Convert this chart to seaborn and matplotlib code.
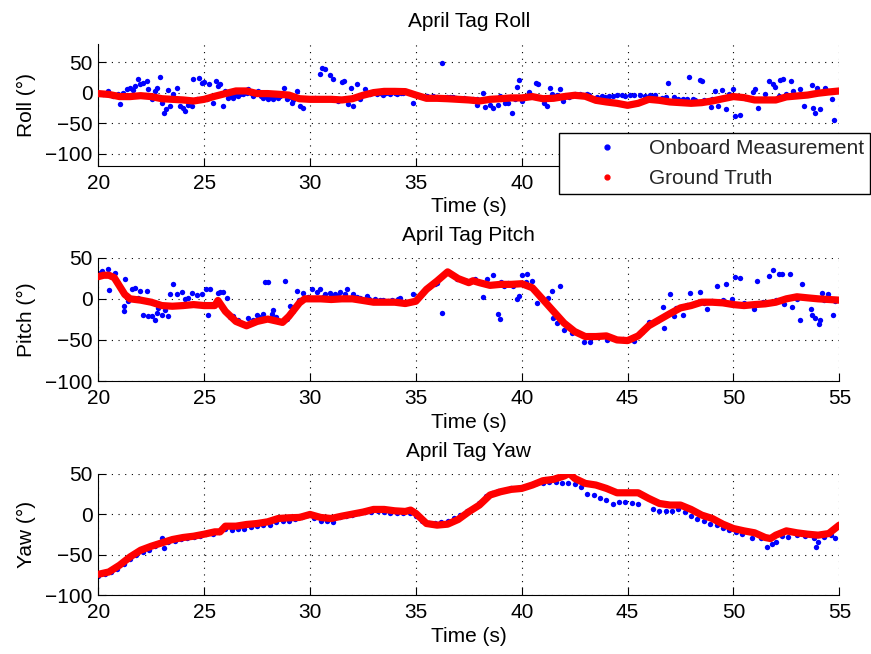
import matplotlib
matplotlib.use("Agg")
import matplotlib.pyplot as plt
from matplotlib.lines import Line2D
import seaborn as sns
import pandas as pd

# ---------------- data ----------------
x_ticks = [20, 25, 30, 35, 40, 45, 50, 55]
y_ticks = [-100, -50, 0, 50]
titles = ["April Tag Roll", "April Tag Pitch", "April Tag Yaw"]
ylabels = ["Roll (°)", "Pitch (°)", "Yaw (°)"]
legend_labels = ["Onboard Measurement", "Ground Truth"]

roll_gt_t = [20, 20.5, 21, 21.5, 22, 22.5, 23, 23.5, 24, 24.5, 25, 25.5, 26, 26.5, 27, 27.5,
             28, 28.5, 29, 29.5, 30, 30.5, 31, 31.5, 32, 32.5, 33, 33.5, 34, 34.5, 35, 35.5,
             36, 36.5, 37, 37.5, 38, 38.5, 39, 39.5, 40, 40.5, 41, 41.5, 42, 42.5, 43, 43.5,
             44, 44.5, 45, 45.5, 46, 46.5, 47, 47.5, 48, 48.5, 49, 49.5, 50, 50.5, 51, 51.5,
             52, 52.5, 53, 53.5, 54, 54.5, 55]
roll_gt = [-1.6, -3, -6.5, -6.5, -5, -6.5, -10, -11, -12, -13.7, -11, -6, -1.6, 2.7, 2.7, -1.6,
           -1.6, -2.7, -4, -10, -11, -11, -11, -12, -10, -4.4, 0, 2, 2, 1.6, -4, -9.3,
           -9.3, -10, -11, -12, -13.7, -11, -10, -8.7, -8.7, -6.5, -10, -9.3, -6.5, -4.4, -6, -12.6,
           -15.3, -17.5, -20.8, -17.5, -11, -12.6, -15.3, -16.4, -17.5, -16.4, -13.7, -10, -6.5, -8.2, -12, -12,
           -12, -7, -5.5, -4, -1, 1, 2.7]

roll_meas_t = [20.00, 20.24, 20.47, 20.71, 20.94, 21.02, 21.18, 21.34, 21.50, 21.65, 21.73, 21.89,
               21.97, 22.13, 22.28, 22.36, 22.52, 22.68, 22.79, 22.91, 22.99, 23.10, 23.18, 23.31,
               23.39, 23.46, 23.54, 23.70, 23.86, 24.02, 24.09, 24.25, 24.41, 24.46, 24.65, 24.77,
               24.88, 24.99, 25.12, 25.24, 25.43, 25.56, 25.67, 25.75, 25.87, 25.98, 26.14, 26.38,
               26.61, 26.85, 27.09, 27.32, 27.56, 27.80, 28.03, 28.27, 28.50, 28.77, 28.90, 29.13,
               29.37, 29.53, 29.69, 30.00, 30.24, 30.47, 30.55, 30.71, 30.94, 31.10, 31.18, 31.34,
               31.50, 31.61, 31.73, 31.81, 31.92, 32.05, 32.20, 32.36, 32.60, 32.83, 33.15, 33.46,
               33.78, 34.09, 34.41, 34.88, 35.51, 35.83, 36.25, 36.46,
               36.77, 37.25, 37.88, 37.91, 38.19, 38.27, 38.51, 38.63, 38.90, 38.98, 39.22, 39.37,
               39.53, 39.69, 39.77, 39.88, 40.00, 40.24, 40.32, 40.68, 40.79, 41.06, 41.18, 41.34,
               41.42, 41.66, 41.81, 41.97, 42.21, 42.52, 42.76, 43.07, 43.55, 43.94, 44.33, 44.73,
               45.12, 45.59, 46.07, 46.30, 46.62, 46.93, 47.17, 47.64, 47.92, 48.11, 48.40, 48.51,
               48.74, 48.93, 49.14, 49.29, 49.45, 49.66, 49.81, 50.00, 50.08, 50.29, 50.55, 50.92,
               51.03, 51.14, 51.50, 51.66, 51.86, 51.97, 52.13, 52.21, 52.33, 52.49, 52.71, 52.81,
               53.15, 53.31, 53.70, 53.78, 53.86, 53.94, 54.07, 54.33, 54.49, 54.65, 54.73,
               26.3, 26.5, 26.7, 27.0, 27.2, 27.4, 27.7, 27.9, 28.1, 28.4, 28.6, 29.0, 29.2,
               33.3, 33.6, 34.0, 34.3, 35.2, 36.0, 36.6, 36.9, 37.1, 37.4, 37.7, 42.3, 42.6,
               42.9, 43.2, 43.8, 44.1, 44.5, 44.9, 45.3, 45.8, 46.2, 46.8, 47.4, 47.8, 48.2,
               48.6, 49.0]
roll_meas = [-1.6, -2.7, 2.7, -5.5, -1.6, -19.1, 0, 6.6, 8.2, 4.4, 10.9, 21.9,
             13.7, 15.3, 19.1, 5.5, -9.8, 2.7, 8.2, 26.2, -16.4, -32.8, -27.3, 4.4,
             -21.9, -10.9, -2.7, 8.2, -21.9, -24.6, -30.1, -20.8, -21.9, 21.9, -10.9, 24.6,
             16.4, 17.5, -10.9, 13.7, -16.4, 19.1, 10.9, 13.7, -21.9, 2.7, -8.2, -8.2,
             -5.5, -2.7, 5.5, -5.5, 2.7, -8.2, -10.9, -9.8, -8.2, 8.2, -10.9, -16.4,
             2.7, -21.9, -24.6, -10.9, -8.2, 30.1, 41.0, 38.3, 28.4, 23.0, -10.9, -13.7,
             17.5, 19.1, -10.9, -19.1, 8.2, -21.9, 13.7, -10.9, 6.6, -2.7, -2.7, -4.4,
             -2.7, -2.7, -1.1, -17.5, -5.5, -5.5, 49.2, -6.6,
             -6.6, -9.3, -9.8, -20.8, -1.1, -23.0, -20.8, -24.6, -20.8, -5.5, -16.4, -17.5,
             -32.8, -10.9, 9.8, 20.8, -13.7, -5.5, 1.1, 15.3, 13.7, -16.4, -21.9, 8.2,
             -2.7, -4.4, 5.5, -13.7, -6.6, -2.7, -2.7, -2.7, -6.6, -6.6, -5.5, -4.4,
             -4.4, -4.4, -4.4, -4.4, -8.2, 15.3, -6.6, -9.8, 25.7, -10.9, 20.8, 19.1,
             -13.7, -23.0, 2.7, -21.9, 4.4, -26.2, -2.7, 5.5, -38.3, -37.2, -8.2, 1.1,
             5.5, -24.6, -2.7, 19.1, 13.7, 9.8, -5.5, 20.8, 21.9, -2.7, 19.1, 2.7,
             5.5, -21.9, 12.0, -24.6, -32.8, 8.2, -26.2, 8.2, 2.7, -9.8, -44.8,
             -6, -4, -3, -1, 0, -2, -5, -6, -8, -6, -6, -7, -12,
             -1, 0, -1, 0, -6, -8, -7, -9, -10, -10, -11, -6, -4,
             -4, -4, -5, -5, -4, -5, -4, -5, -5, -7, -10, -11, -12,
             -12, -11]

pitch_gt_t = [20, 20.25, 20.5, 20.75, 21, 21.25, 21.5, 22, 22.5, 23, 23.5, 24, 24.5, 25, 25.5,
              25.65, 26, 26.5, 27, 27.5, 28, 28.5, 28.7, 29, 29.5, 29.75, 30, 30.5, 31, 31.5,
              32, 32.5, 33, 33.5, 34, 34.5, 35, 35.5, 36, 36.5, 37, 37.5, 37.7, 38, 38.5, 39,
              39.5, 40, 40.5, 41, 41.5, 42, 42.5, 43, 43.5, 44, 44.5, 45, 45.5, 46, 46.5, 47,
              47.5, 48, 48.5, 49, 49.5, 50, 50.5, 51, 51.5, 52, 52.5, 53, 53.5, 54, 54.5, 55]
pitch_gt = [27, 28.7, 28.7, 25.8, 15.6, 5.3, 0, -1.6, -4.1, -8.2, -9, -8.2, -7, -8.2, -8.2,
            -2, -15.2, -27.5, -32.8, -27.5, -24.6, -27.5, -28.7, -21.3, -4.9, 0, 0, 0, -0.8, 0,
            0, -2, -4.1, -4.1, -4.1, -5.7, -2.9, 11.5, 21.7, 32.8, 24.6, 19.7, 22, 19.7, 16.4, 17.6,
            17.6, 18.4, 13.5, -0.8, -15.2, -29.5, -39.8, -45.9, -45.9, -45.1, -50, -50.8, -45.1, -32.8, -25.4, -18,
            -11, -8.2, -4.1, -4.1, -4.9, -7, -8.2, -7, -6.1, -4.1, 0, 2.5, 1.2, 0, -0.8, -1.6]

pitch_meas_t = [20.00, 20.16, 20.47, 20.52, 20.79, 20.94, 21.21, 21.23, 21.26, 21.42, 21.57, 21.73,
                21.89, 21.97, 22.13, 22.28, 22.36, 22.52, 22.68, 22.76, 22.83, 22.99, 23.15, 23.31,
                23.39, 23.54, 23.70, 23.94, 24.09, 24.25, 24.41, 24.65, 24.88, 25.09, 25.20, 25.28,
                25.67, 25.75, 25.91, 26.06, 26.38, 26.61, 27.09, 27.48, 27.87, 28.03, 27.80, 28.19,
                28.27, 28.82, 29.06, 29.37, 29.69, 30.08, 30.31, 30.47, 30.71, 30.94, 31.18, 31.42,
                31.65, 31.73, 32.05, 32.36, 32.68, 33.07, 33.46, 33.86, 34.17, 34.25, 34.88, 36.22,
                35.98, 35.91, 36.93, 37.17, 37.80, 38.19, 38.35, 38.66, 38.90, 38.95, 39.14, 39.37,
                39.77, 39.88, 40.00, 40.24, 40.48, 40.71, 41.26, 41.42, 41.50, 41.66, 41.81, 42.00,
                42.37, 42.92, 43.23, 44.02, 45.28, 45.67, 46.38, 46.66, 46.70, 46.98, 47.17, 47.64,
                47.96, 48.40, 48.74, 49.22, 49.66, 49.92, 50.08, 50.29, 50.95, 51.11, 51.66, 51.89,
                52.13, 52.29, 52.68, 52.76, 53.15, 53.23, 53.66, 53.70, 53.86, 54.02, 54.10, 54.17,
                54.49, 54.70,
                26.2, 26.8, 27.3, 27.6, 28.4, 28.9, 29.2, 29.5, 29.9, 30.6, 31.0, 31.3, 32.2, 32.8,
                33.3, 33.7, 34.5, 35.2, 35.6, 37.4, 38.0, 39.0, 39.6, 40.2, 42.6, 43.6, 44.3, 44.8,
                46.0, 47.3, 47.8, 48.2, 48.6, 49.0, 49.5, 50.5, 51.4, 52.0, 52.4, 53.0, 54.3, 54.8]
pitch_meas = [32, 34, 36, 10.7, 32, 19.7, -9, -15.2, 23.8, -2.9, 11.5, 13.5,
              1.2, 9.4, -19.3, 9.4, -21.3, -21.3, -25.4, -17.2, -11, -19.3, -13.1, -21.3,
              5.3, 17.6, 5.3, 8.2, -0.8, 1.2, 6.6, 4.1, 5.3, 11.5, -20, 11.5,
              6.6, 8.2, 8.2, 1.2, -21.3, -25.4, -23.4, -19.3, 20.5, 20.5, -18, -18,
              -13.1, 21.7, -8.2, 9.4, 6.6, 11.5, 8.2, 11.5, 5.3, 6.6, 5.3, 8.2,
              5.3, 11.5, 5.3, 1.2, 3.3, 0, -1.6, -1.6, -0.8, 1.2, 5.3, -17.2,
              19.7, 17.6, 23.8, 23, 24.6, 2.5, 24.6, 28.7, -18, -24.6, 15.6, 19.7,
              0, 3.3, 28.7, 30, 21.7, -4.9, 1.2, 9.4, -23.4, -29.5, 15.6, -37.7,
              -41.8, -52, -52, -50, -50.8, -39.8, -27.5, -9.8, -35.7, 5.3, -21.3, -19.3,
              7.4, 8.2, -12.3, 15.6, 17.6, -0.8, 27, 25.8, -12.3, 21.7, 27.9, 35.2,
              30, 30, 30, -9.8, -25.4, 17.6, -12.3, -19.3, -23.4, -30.3, -25.4, 6.6,
              5.3, -19.3,
              -22, -29, -26, -22, -22, -24, -15, -2, 2, 2, 3, 4, 2, 0,
              -2, -3, -4, 4, 14, 22, 21, 20, 16, 21, -40, -47, -48, -49,
              -28, -11, -7, -5, -5, -3, -2, -5, -4, -2, -6, 0, -1, -3]

yaw_gt_t = [20, 20.5, 21, 21.5, 22, 22.5, 23, 23.5, 24, 24.5, 25, 25.5, 25.75, 26, 26.5, 27,
            27.5, 28, 28.5, 29, 29.5, 30, 30.5, 31, 31.5, 32, 32.5, 33, 33.5, 34, 34.5, 34.75,
            35, 35.5, 36, 36.5, 37, 37.5, 38, 38.5, 39, 39.5, 40, 40.5, 41, 41.5, 42, 42.25,
            42.5, 43, 43.5, 44, 44.5, 45, 45.5, 46, 46.5, 47, 47.5, 48, 48.5, 49, 49.5, 50,
            50.5, 51, 51.5, 51.75, 52, 52.5, 53, 53.5, 54, 54.5, 55]
yaw_gt = [-74.4, -71.5, -63.2, -52.9, -44.6, -39.7, -35.5, -31.4, -28.9, -27.3, -24.8, -21.9, -21.9, -14.9, -14.9, -12.8,
          -11.6, -9.5, -5.4, -4.5, -4.1, -0.4, -4.1, -5.4, -2.5, 0, 2.5, 5.8, 5.8, 4.1, 3.3, 5,
          0.8, -11.6, -13.6, -12.4, -6.6, 2.9, 11.2, 23.6, 27.7, 30.6, 31.8, 36, 41.3, 43, 47.1, 50.4,
          44.2, 38, 36, 31.8, 26.4, 26.4, 26.4, 19.4, 13.2, 11.2, 11.2, 5.8, -1.2, -5.4, -12.4, -17.8,
          -20.7, -23.1, -28.9, -30.2, -26, -20.7, -23.1, -24.8, -26, -24, -13.6]

yaw_meas_t = [20.0, 20.3, 20.6, 20.9, 21.2, 21.5, 21.8, 22.1, 22.4, 22.7, 23.0, 23.1, 23.3, 23.6,
              23.9, 24.2, 24.5, 24.8, 25.1, 25.4, 25.7, 26.0, 26.3, 26.6, 26.9, 27.2, 27.5, 27.8,
              28.1, 28.4, 28.7, 29.0, 29.3, 29.6, 29.9, 30.2, 30.5, 30.8, 31.1, 31.4, 31.7, 32.0,
              32.3, 32.6, 32.9, 33.2, 33.5, 33.8, 34.1, 34.4, 34.7, 35.0, 35.3, 35.6, 35.9, 36.2,
              36.5, 36.8, 37.1, 37.4, 37.7, 38.0, 38.3, 38.6, 38.9, 39.2, 39.5, 39.8, 40.1, 40.4,
              40.7, 41.0, 41.3, 41.6, 41.9, 42.2, 42.5, 42.8, 43.1, 43.4, 43.7, 44.0, 44.3, 44.6,
              44.9, 45.2, 45.5, 46.2, 46.5, 46.8, 47.1, 47.4, 47.7, 48.0, 48.3, 48.6, 48.9, 49.2,
              49.5, 49.8, 50.1, 50.4, 50.9, 51.3, 51.6, 51.8, 52.0, 52.3, 52.6, 53.0, 53.4, 53.8,
              53.9, 54.0, 54.3, 54.6, 54.8]
yaw_meas = [-76, -74, -72, -68, -62, -56, -50, -47, -44, -40, -30, -42, -35, -33,
            -31, -30, -28, -27, -25, -24, -22, -18, -20, -19, -18, -16, -15, -14,
            -13, -10, -9, -8, -6, -4, -1, -5, -9, -9, -10, -4, -2, -1,
            1, 3, 3, 4, 3, 2, 1, 1, 2, -2, -8, -11, -11, -10,
            -8, -5, -1, 4, 8, 14, 22, 26, 28, 30, 32, 32, 34, 36,
            38, 39, 40, 40, 39, 38, 37, 33, 25, 24, 20, 17, 13, 15,
            15, 14, 13, 6, 4, 4, 4, 6, 3, -2, -6, -9, -12, -14,
            -17, -20, -22, -24, -29, -30, -41, -37, -34, -27, -28, -26, -27, -30,
            -41, -35, -28, -26, -29]

# ---------------- style ----------------
sns.set_style("white")
plt.rcParams["font.family"] = ["Liberation Sans", "DejaVu Sans"]
plt.rcParams["axes.unicode_minus"] = True

FS = 15
fig = plt.figure(figsize=(8.71, 6.54), dpi=100)
rects = [
    [0.1129, 0.7462, 0.8507, 0.1870],
    [0.1129, 0.4174, 0.8507, 0.1885],
    [0.1129, 0.0902, 0.8507, 0.1855],
]
ylims = [(-120, 80), (-100, 50), (-100, 50)]
series = [
    (roll_meas_t, roll_meas, roll_gt_t, roll_gt),
    (pitch_meas_t, pitch_meas, pitch_gt_t, pitch_gt),
    (yaw_meas_t, yaw_meas, yaw_gt_t, yaw_gt),
]

for i, rect in enumerate(rects):
    ax = fig.add_axes(rect)
    mt, mv, gt, gv = series[i]
    dm = pd.DataFrame({"t": mt, "v": mv})
    dg = pd.DataFrame({"t": gt, "v": gv})
    sns.scatterplot(data=dm, x="t", y="v", ax=ax, color="#0000ff", s=15,
                    linewidth=0, legend=False, zorder=2)
    sns.lineplot(data=dg, x="t", y="v", ax=ax, color="#ff0000", linewidth=5.2,
                 legend=False, estimator=None, sort=False, zorder=3,
                 solid_capstyle="round", solid_joinstyle="round")
    ax.set_xlim(20, 55)
    ax.set_ylim(*ylims[i])
    ax.set_xticks(x_ticks)
    ax.set_yticks(y_ticks)
    ax.set_axisbelow(True)
    ax.grid(True, color="black", linestyle=(0, (1, 5)), linewidth=0.8)
    for s in ["top", "right"]:
        ax.spines[s].set_visible(False)
    for s in ["left", "bottom"]:
        ax.spines[s].set_color("black")
        ax.spines[s].set_linewidth(0.8)
    ax.tick_params(direction="in", length=6, width=0.8, colors="black",
                   labelsize=FS, left=True, bottom=True)
    ax.tick_params(axis="x", pad=6)
    ax.tick_params(axis="y", pad=4)
    ax.set_title(titles[i], fontsize=FS, pad=12, color="black")
    ax.set_xlabel("Time (s)", fontsize=FS, labelpad=3, color="black")
    ax.set_ylabel(ylabels[i], fontsize=FS, labelpad=7, color="black")

handles = [
    Line2D([], [], linestyle="none", marker="o", markersize=3.5, color="#0000ff"),
    Line2D([], [], linestyle="none", marker="o", markersize=3.5, color="#ff0000"),
]
leg = fig.legend(handles, legend_labels, loc="upper left",
                 bbox_to_anchor=(559 / 871, 1 - 133 / 654), borderaxespad=0,
                 fontsize=FS, frameon=True, fancybox=False, framealpha=1,
                 edgecolor="black", borderpad=0.28, handlelength=4.05,
                 handletextpad=0.0, labelspacing=0.55)
leg.get_frame().set_linewidth(1.0)

fig.savefig("out.png", dpi=100)
